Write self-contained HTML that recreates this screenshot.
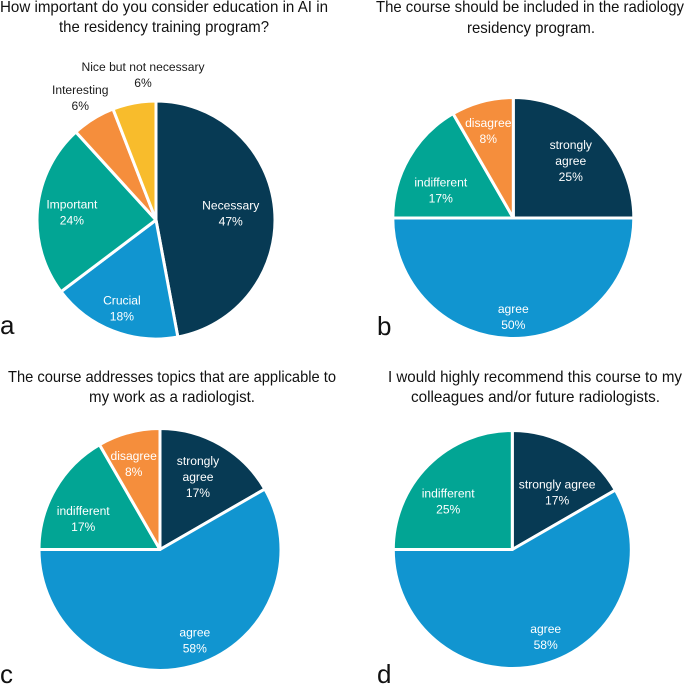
<!DOCTYPE html>
<html lang="en">
<head>
<meta charset="utf-8">
<title>AI education survey pie charts</title>
<style>
html,body{margin:0;padding:0;background:#fff;width:685px;height:685px;overflow:hidden}
svg{display:block}
text{font-family:"Liberation Sans",sans-serif}
.title{font-size:16px;fill:#111}
.panel{font-size:26px;fill:#111}
.lbl{font-size:12.1px;text-anchor:middle}
</style>
</head>
<body>
<svg id="figure" width="685" height="685" viewBox="0 0 685 685" xmlns="http://www.w3.org/2000/svg">
  <text class="title" x="0" y="12" textLength="328" lengthAdjust="spacingAndGlyphs">How important do you consider education in AI in</text>
  <text class="title" x="59" y="32" textLength="210" lengthAdjust="spacingAndGlyphs">the residency training program?</text>
  <text class="title" x="376" y="12" textLength="308" lengthAdjust="spacingAndGlyphs">The course should be included in the radiology</text>
  <text class="title" x="467" y="33" textLength="128" lengthAdjust="spacingAndGlyphs">residency program.</text>
  <text class="title" x="8" y="382" textLength="328" lengthAdjust="spacingAndGlyphs">The course addresses  topics that are applicable to</text>
  <text class="title" x="89" y="402" textLength="166" lengthAdjust="spacingAndGlyphs">my work as a radiologist.</text>
  <text class="title" x="388" y="382" textLength="294" lengthAdjust="spacingAndGlyphs">I would highly recommend this course to my</text>
  <text class="title" x="411" y="402" textLength="249" lengthAdjust="spacingAndGlyphs">colleagues and/or future radiologists.</text>
  <text class="panel" x="0" y="334">a</text>
  <text class="panel" x="377" y="335">b</text>
  <text class="panel" x="0" y="683">c</text>
  <text class="panel" x="377" y="683">d</text>
</svg>
<script>
// Data: categories ("|" marks a line break in the label) and percentage values
const chartACategories = ["Necessary", "Crucial", "Important", "Interesting", "Nice but not necessary"];
const chartAValues = [47.06, 17.65, 23.53, 5.88, 5.88];

const chartBCategories = ["strongly|agree", "agree", "indifferent", "disagree"];
const chartBValues = [25, 50, 16.67, 8.33];

const chartCCategories = ["strongly|agree", "agree", "indifferent", "disagree"];
const chartCValues = [16.67, 58.33, 16.67, 8.33];

const chartDCategories = ["strongly agree", "agree", "indifferent"];
const chartDValues = [16.67, 58.33, 25];

// Colours by category
const responseColors = {
  "Necessary": "#073A54", "Crucial": "#1195D0", "Important": "#02A594",
  "Interesting": "#F58E3C", "Nice but not necessary": "#F8BC2C",
  "strongly|agree": "#073A54", "strongly agree": "#073A54", "agree": "#1195D0",
  "indifferent": "#02A594", "disagree": "#F58E3C"
};

const svgNS = "http://www.w3.org/2000/svg";
const figure = document.getElementById("figure");

// Angle scale: percentage share to clockwise degrees
function angleScale(share, total) { return share / total * 360; }
function polar(cx, cy, r, deg) {
  const a = deg * Math.PI / 180;
  return [cx + r * Math.sin(a), cy - r * Math.cos(a)];
}

function drawPie(id, categories, values, geom, labelRadius, labelShift, darkLabels) {
  const total = values.reduce(function (s, v) { return s + v; }, 0);
  const drawR = geom.r + 1; // the white stroke trims the outer edge
  const group = document.createElementNS(svgNS, "g");
  
  
  figure.appendChild(group);
  let start = 0;
  values.forEach(function (v, i) {
    const sweep = angleScale(v, total);
    const end = start + sweep;
    const p0 = polar(geom.cx, geom.cy, drawR, start);
    const p1 = polar(geom.cx, geom.cy, drawR, end);
    const slug = categories[i].toLowerCase().replace(/[| ]+/g, "-");
    const path = document.createElementNS(svgNS, "path");
    path.setAttribute("d", "M" + geom.cx + " " + geom.cy + "L" + p0[0] + " " + p0[1] +
      "A" + drawR + " " + drawR + " 0 " + (sweep > 180 ? 1 : 0) + " 1 " + p1[0] + " " + p1[1] + "Z");
    path.setAttribute("fill", responseColors[categories[i]]);
    path.setAttribute("stroke", "#fff");
    path.setAttribute("stroke-width", "3");
    path.setAttribute("stroke-linejoin", "round");
    
    
    group.appendChild(path);
    start = end;
  });
  start = 0;
  values.forEach(function (v, i) {
    const sweep = angleScale(v, total);
    const mid = start + sweep / 2 + labelShift[i];
    const c = polar(geom.cx, geom.cy, geom.r * labelRadius[i], mid);
    const lines = categories[i].split("|").concat([Math.round(v) + "%"]);
    const slug = categories[i].toLowerCase().replace(/[| ]+/g, "-");
    const text = document.createElementNS(svgNS, "text");
    text.setAttribute("class", "lbl");
    text.setAttribute("fill", darkLabels[i] ? "#1a1a1a" : "#fff");
    
    
    lines.forEach(function (line, j) {
      const span = document.createElementNS(svgNS, "tspan");
      span.setAttribute("x", c[0]);
      span.setAttribute("y", c[1] + 4.5 + (j - (lines.length - 1) / 2) * 16);
      span.textContent = line;
      text.appendChild(span);
    });
    group.appendChild(text);
    start += sweep;
  });
}

drawPie("a", chartACategories, chartAValues, {cx: 156, cy: 220, r: 118},
  [0.636, 0.8, 0.716, 1.22, 1.24], [0, 0, 0, 0, 5.5], [false, false, false, true, true]);
drawPie("b", chartBCategories, chartBValues, {cx: 513.3, cy: 218, r: 119.5},
  [0.68, 0.825, 0.65, 0.76], [0, 0, -9, -1], [false, false, false, false]);
drawPie("c", chartCCategories, chartCValues, {cx: 160, cy: 549.5, r: 120},
  [0.685, 0.81, 0.69, 0.75], [-2.5, -6, -8, -2], [false, false, false, false]);
drawPie("d", chartDCategories, chartDValues, {cx: 512.3, cy: 549.5, r: 118},
  [0.617, 0.79, 0.68], [8, -6, -8], [false, false, false]);
</script>
</body>
</html>
